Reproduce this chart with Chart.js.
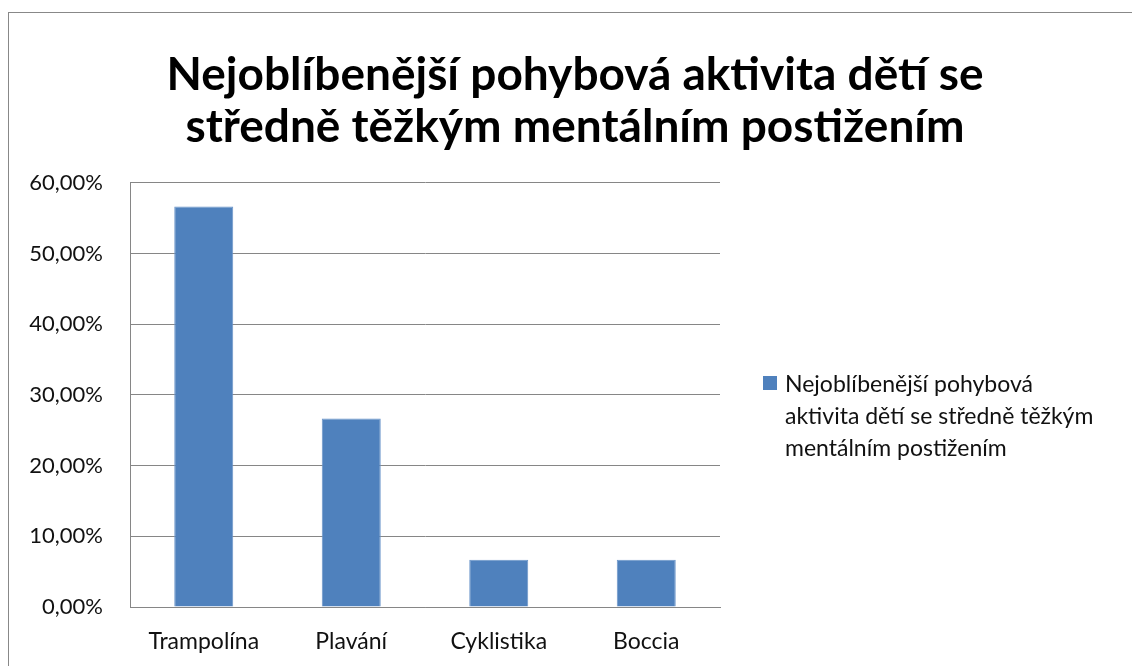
<!DOCTYPE html>
<html>
<head>
<meta charset="utf-8">
<title>Nejoblíbenější pohybová aktivita</title>
<script src="https://cdn.jsdelivr.net/npm/chart.js"></script>
<style>
    html, body {
        margin: 0;
        padding: 0;
        background: #ffffff;
        overflow: hidden;
        width: 1132px;
        height: 666px;
    }
    .frame {
        position: absolute;
        left: 8px;
        top: 12px;
        width: 1200px;
        height: 700px;
        border: 1px solid #888888;
    }
    .chart-box {
        position: absolute;
        left: 0;
        top: 0;
        width: 1132px;
        height: 666px;
    }
    .legend {
        position: absolute;
        left: 763px;
        top: 367px;
        font-family: Lato, "Noto Sans", sans-serif;
        font-size: 23px;
        line-height: 32px;
        color: #111;
        display: flex;
        align-items: flex-start;
        white-space: nowrap;
    }
    .legend .swatch {
        width: 14px;
        height: 14px;
        background: #4f81bd;
        margin-top: 9px;
        margin-right: 8px;
        flex: none;
    }
</style>
</head>
<body>
<div class="frame"></div>
<div class="chart-box">
    <canvas id="barChart" width="1132" height="666"></canvas>
</div>
<div class="legend">
    <div class="swatch"></div>
    <div id="legendText"></div>
</div>

<script>
    // data
    var categories = ['Trampolína', 'Plavání', 'Cyklistika', 'Boccia'];
    var shares = [56.67, 26.67, 6.67, 6.67];
    var titleLines = ['Nejoblíbenější pohybová aktivita dětí se', 'středně těžkým mentálním postižením'];
    var seriesName = 'Nejoblíbenější pohybová aktivita dětí se středně těžkým mentálním postižením';
    var legendLines = ['Nejoblíbenější pohybová', 'aktivita dětí se středně těžkým', 'mentálním postižením'];

    document.getElementById('legendText').innerHTML = legendLines.join('<br>');

    var gridGrey = '#868686';
    var fontName = 'Lato, "Noto Sans", sans-serif';

    var ctx = document.getElementById('barChart').getContext('2d');
    var chart = new Chart(ctx, {
        type: 'bar',
        data: {
            labels: categories,
            datasets: [{
                label: seriesName,
                data: shares,
                backgroundColor: '#4f81bd',
                borderColor: '#6a95c9',
                borderWidth: 1,
                categoryPercentage: 1,
                barPercentage: 0.4
            }]
        },
        options: {
            responsive: false,
            animation: false,
            layout: {
                padding: { left: 18, right: 0, top: 0, bottom: 0 }
            },
            plugins: {
                legend: { display: false },
                tooltip: { enabled: false },
                title: {
                    display: true,
                    text: titleLines,
                    color: '#000000',
                    font: { family: fontName, size: 46, weight: 'bold', lineHeight: 1.13 },
                    padding: { top: 49, bottom: 30 }
                }
            },
            scales: {
                x: {
                    grid: { display: false, drawTicks: false },
                    border: { display: true, color: gridGrey, width: 1 },
                    ticks: {
                        color: '#111',
                        font: { family: fontName, size: 23 },
                        padding: 21
                    },
                    afterFit: function (scale) { scale.height = 59; }
                },
                y: {
                    min: 0,
                    max: 60,
                    ticks: {
                        stepSize: 10,
                        color: '#111',
                        font: { family: fontName, size: 22 },
                        padding: 27,
                        callback: function (v) { return v.toFixed(2).replace('.', ',') + '%'; }
                    },
                    grid: { color: gridGrey, lineWidth: 1, drawTicks: false },
                    border: { display: true, color: gridGrey, width: 1 },
                    afterFit: function (scale) { scale.width = 112; }
                },
                // empty right axis that keeps room for the legend
                yRoom: {
                    position: 'right',
                    grid: { display: false, drawTicks: false },
                    border: { display: false },
                    ticks: { display: false },
                    afterFit: function (scale) { scale.width = 412; }
                }
            }
        }
    });
</script>
</body>
</html>
